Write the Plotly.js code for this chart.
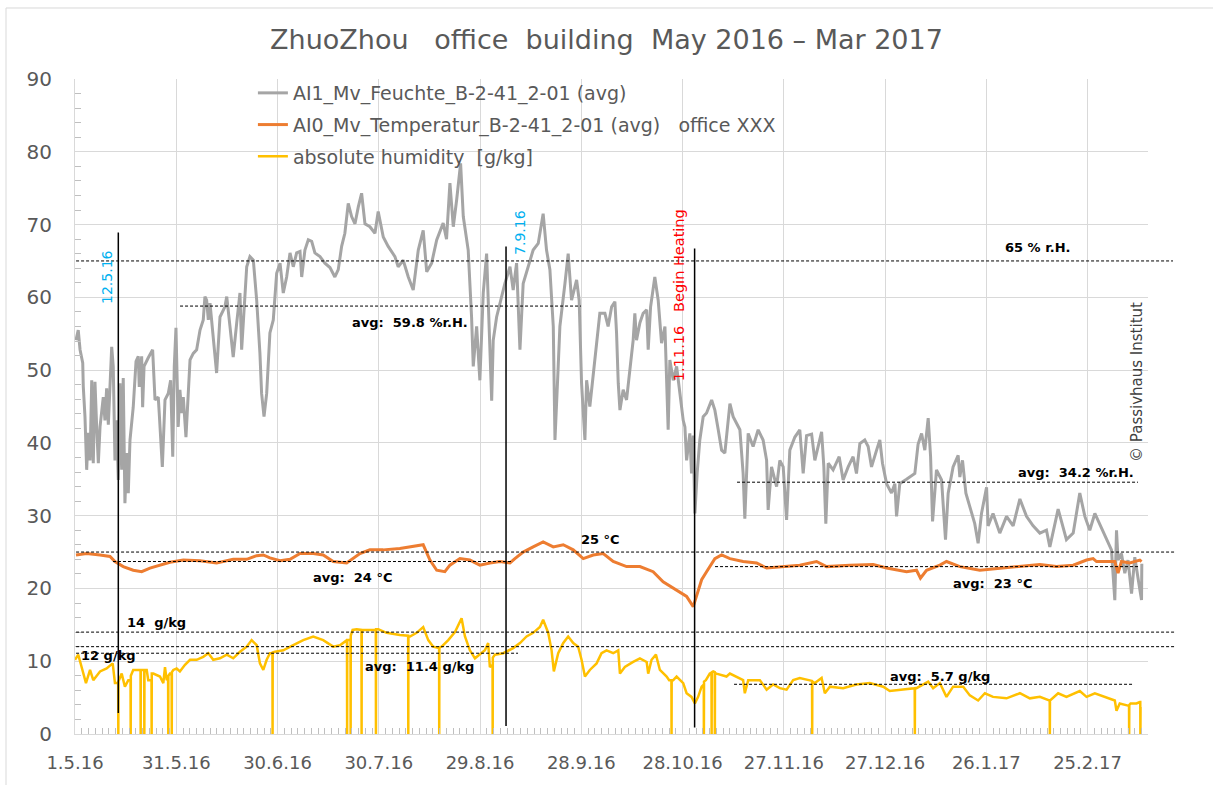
<!DOCTYPE html>
<html>
<head>
<meta charset="utf-8">
<script src="https://cdn.plot.ly/plotly-3.0.1.min.js"></script>
<style>html,body{margin:0;padding:0;background:#fff;}#chart{width:1213px;height:785px;}</style>
</head>
<body>
<div id="chart"></div>
<script>
// ---------- data ----------
const rhTime = ["2016-05-01 07:00","2016-05-01 23:00","2016-05-02 12:00","2016-05-03 07:00","2016-05-03 11:00","2016-05-03 23:00","2016-05-04 11:00","2016-05-04 22:00","2016-05-05 11:00","2016-05-05 23:00","2016-05-06 10:00","2016-05-06 22:00","2016-05-07 10:00","2016-05-07 22:00","2016-05-08 10:00","2016-05-09 09:00","2016-05-09 21:00","2016-05-10 09:00","2016-05-10 21:00","2016-05-11 21:00","2016-05-12 08:00","2016-05-12 20:00","2016-05-13 08:00","2016-05-13 20:00","2016-05-14 08:00","2016-05-14 20:00","2016-05-15 07:00","2016-05-15 19:00","2016-05-16 08:00","2016-05-16 19:00","2016-05-17 07:00","2016-05-18 06:00","2016-05-19 02:00","2016-05-19 18:00","2016-05-20 01:00","2016-05-20 18:00","2016-05-21 01:00","2016-05-21 11:00","2016-05-22 17:00","2016-05-24 00:00","2016-05-24 17:00","2016-05-25 16:00","2016-05-25 23:00","2016-05-26 21:00","2016-05-27 16:00","2016-05-28 15:00","2016-05-29 08:00","2016-05-29 23:00","2016-05-30 10:00","2016-05-30 22:00","2016-05-31 14:00","2016-06-01 02:00","2016-06-01 15:00","2016-06-02 02:00","2016-06-02 21:00","2016-06-03 13:00","2016-06-04 02:00","2016-06-05 01:00","2016-06-06 01:00","2016-06-07 01:00","2016-06-08 00:00","2016-06-08 12:00","2016-06-09 00:00","2016-06-09 12:00","2016-06-10 00:00","2016-06-11 23:00","2016-06-12 23:00","2016-06-14 10:00","2016-06-14 23:00","2016-06-15 22:00","2016-06-16 21:00","2016-06-17 22:00","2016-06-18 21:00","2016-06-19 09:00","2016-06-20 21:00","2016-06-21 20:00","2016-06-22 20:00","2016-06-23 20:00","2016-06-24 19:00","2016-06-25 07:00","2016-06-26 00:00","2016-06-26 19:00","2016-06-27 06:00","2016-06-27 18:00","2016-06-28 18:00","2016-06-29 18:00","2016-06-30 18:00","2016-07-01 17:00","2016-07-02 17:00","2016-07-03 17:00","2016-07-04 16:00","2016-07-05 16:00","2016-07-06 16:00","2016-07-07 04:00","2016-07-08 03:00","2016-07-09 03:00","2016-07-10 03:00","2016-07-11 02:00","2016-07-12 14:00","2016-07-14 01:00","2016-07-15 13:00","2016-07-17 00:00","2016-07-18 00:00","2016-07-19 00:00","2016-07-19 23:00","2016-07-20 23:00","2016-07-21 23:00","2016-07-22 23:00","2016-07-23 22:00","2016-07-24 22:00","2016-07-25 22:00","2016-07-27 09:00","2016-07-28 21:00","2016-07-29 20:00","2016-07-31 08:00","2016-08-01 19:00","2016-08-03 19:00","2016-08-04 18:00","2016-08-06 06:00","2016-08-07 18:00","2016-08-09 05:00","2016-08-10 17:00","2016-08-12 04:00","2016-08-13 05:00","2016-08-14 16:00","2016-08-16 04:00","2016-08-18 02:00","2016-08-19 02:00","2016-08-20 02:00","2016-08-21 02:00","2016-08-22 02:00","2016-08-23 06:00","2016-08-24 01:00","2016-08-25 12:00","2016-08-26 12:00","2016-08-27 00:00","2016-08-28 00:00","2016-08-28 23:00","2016-08-29 23:00","2016-08-30 23:00","2016-09-01 11:00","2016-09-01 22:00","2016-09-02 22:00","2016-09-03 22:00","2016-09-05 09:00","2016-09-06 21:00","2016-09-07 20:00","2016-09-08 20:00","2016-09-09 20:00","2016-09-10 19:00","2016-09-12 07:00","2016-09-13 18:00","2016-09-15 06:00","2016-09-16 17:00","2016-09-17 17:00","2016-09-18 17:00","2016-09-19 17:00","2016-09-20 05:00","2016-09-21 04:00","2016-09-21 16:00","2016-09-23 04:00","2016-09-24 03:00","2016-09-25 03:00","2016-09-26 15:00","2016-09-27 09:00","2016-09-28 02:00","2016-09-29 02:00","2016-09-29 14:00","2016-09-30 13:00","2016-10-02 01:00","2016-10-03 12:00","2016-10-05 00:00","2016-10-05 23:00","2016-10-07 00:00","2016-10-07 23:00","2016-10-08 11:00","2016-10-08 23:00","2016-10-09 11:00","2016-10-10 10:00","2016-10-11 10:00","2016-10-12 10:00","2016-10-13 09:00","2016-10-13 21:00","2016-10-14 09:00","2016-10-15 09:00","2016-10-16 08:00","2016-10-17 09:00","2016-10-17 20:00","2016-10-18 13:00","2016-10-19 19:00","2016-10-20 19:00","2016-10-21 19:00","2016-10-22 19:00","2016-10-23 18:00","2016-10-24 06:00","2016-10-25 06:00","2016-10-26 06:00","2016-10-27 05:00","2016-10-28 05:00","2016-10-28 17:00","2016-10-29 05:00","2016-10-30 04:00","2016-10-30 16:00","2016-10-31 04:00","2016-10-31 16:00","2016-11-01 08:00","2016-11-02 03:00","2016-11-03 03:00","2016-11-04 03:00","2016-11-05 15:00","2016-11-06 14:00","2016-11-07 14:00","2016-11-08 14:00","2016-11-09 13:00","2016-11-11 01:00","2016-11-12 00:00","2016-11-14 00:00","2016-11-14 23:00","2016-11-15 11:00","2016-11-16 11:00","2016-11-17 22:00","2016-11-19 10:00","2016-11-20 21:00","2016-11-21 22:00","2016-11-22 09:00","2016-11-23 09:00","2016-11-24 21:00","2016-11-25 20:00","2016-11-26 20:00","2016-11-27 20:00","2016-11-28 19:00","2016-11-30 07:00","2016-12-01 18:00","2016-12-02 18:00","2016-12-03 18:00","2016-12-05 06:00","2016-12-06 05:00","2016-12-08 05:00","2016-12-08 21:00","2016-12-09 11:00","2016-12-10 04:00","2016-12-11 15:00","2016-12-13 10:00","2016-12-14 14:00","2016-12-16 02:00","2016-12-17 13:00","2016-12-18 13:00","2016-12-19 13:00","2016-12-21 00:00","2016-12-22 00:00","2016-12-23 00:00","2016-12-24 12:00","2016-12-25 11:00","2016-12-26 06:00","2016-12-27 11:00","2016-12-28 22:00","2016-12-29 22:00","2016-12-30 10:00","2016-12-31 09:00","2017-01-02 09:00","2017-01-04 20:00","2017-01-05 19:00","2017-01-06 20:00","2017-01-07 19:00","2017-01-08 19:00","2017-01-09 12:00","2017-01-10 02:00","2017-01-11 06:00","2017-01-12 18:00","2017-01-13 22:00","2017-01-14 17:00","2017-01-16 04:00","2017-01-17 16:00","2017-01-18 04:00","2017-01-18 23:00","2017-01-19 23:00","2017-01-21 03:00","2017-01-22 14:00","2017-01-23 14:00","2017-01-24 14:00","2017-01-26 02:00","2017-01-26 13:00","2017-01-28 00:00","2017-01-30 00:00","2017-02-01 00:00","2017-02-02 23:00","2017-02-04 23:00","2017-02-06 22:00","2017-02-08 21:00","2017-02-10 21:00","2017-02-12 20:00","2017-02-13 20:00","2017-02-16 07:00","2017-02-17 18:00","2017-02-18 18:00","2017-02-20 18:00","2017-02-22 17:00","2017-02-24 05:00","2017-02-25 16:00","2017-02-27 04:00","2017-03-04 02:00","2017-03-05 02:00","2017-03-05 14:00","2017-03-06 01:00","2017-03-07 01:00","2017-03-08 01:00","2017-03-09 00:00","2017-03-10 01:00","2017-03-11 00:00","2017-03-12 00:00","2017-03-13 00:00","2017-03-13 02:00"];
const rhValue = [54.1,55.5,52.8,51,47.7,43.6,36.3,41.4,37.6,48.6,37.2,48.4,42.2,37.2,42.2,46.3,43.1,47.5,42.5,53.2,50.5,37.6,43.1,34.9,48.2,36.3,48.9,31.7,38.6,33.1,40.4,44.9,51.2,51.9,47.7,51.9,44.9,50.5,51.7,52.8,45.9,46.3,44.1,36.7,45.9,46.8,48.6,38.1,50.5,55.8,42.2,47.3,44.1,46.3,40.8,47.3,51.4,52.3,52.8,55.5,56.9,60.1,59.6,56.9,59.2,49.6,57.3,58.7,60.1,56,51.8,56.5,60.6,52.8,64.2,65.6,65.1,59.6,52.3,46.8,43.6,46.8,51.8,55.1,56.9,63.3,64.7,60.6,62.8,66.1,64.2,66.1,66.3,62.8,66.5,67.9,67.7,66.1,65.6,64.7,64.1,62.8,63.8,67,68.8,72.9,71.1,70.1,72.4,74.3,70.1,69.7,68.8,71.8,68.3,67,65.6,64.2,65.1,62.8,61,66.5,69.2,63.5,64.7,67.9,70.2,68,75.7,69.7,73.4,78.4,71.1,66.5,57.3,50.5,56,48.6,60.6,66,45.8,54.1,57.3,59.2,61.9,64.2,61,64.7,52.8,61.9,64.2,66.5,67.4,71.5,66.5,63.8,56,40.4,50.5,56,61.9,66,59.6,62.4,59.6,48.2,40.4,48.6,45,51.4,57.8,57.8,56,58.7,59.4,55.1,48.2,44.5,47.3,45.9,50.5,54.1,57.8,54.1,56.5,57.8,58.3,52.8,58.7,62.8,59.6,53.7,56,41.8,51.4,48.6,50.5,46.8,43.1,42.2,37.6,41.3,35.8,41,30.3,35.8,40.4,43.6,44.1,45.9,44.5,41.8,39,38.6,45.4,43.6,41.8,35.8,29.6,41.3,39.5,41.8,40.4,37.6,30.8,36.7,34,37.6,36.7,29.4,39,40.8,41.8,35.8,41,41.2,37.6,41.5,36.7,28.9,37.2,36.3,38.1,34.9,36.7,38.1,35.8,39.9,40.4,39.5,36.7,39,40.4,37.2,34.4,33.1,34.4,29.9,34.4,35,35.8,39.8,41.3,39,43.4,38.1,29.2,36.3,34.9,26.7,33.1,36.7,38.3,35.3,37.6,33.1,31.2,28.9,26.2,30.3,33.9,28.6,30.3,27.6,29.9,28.6,32.3,29.9,28.6,27.6,28,25.7,30.9,28.6,26.7,27.6,33.1,29.9,28,30.3,25.3,18.4,28,23.9,24.8,22.1,23.9,19.3,24.3,21.3,18.4,23.4];

const tempTime = ["2016-05-01 07:00","2016-05-04 11:00","2016-05-08 10:00","2016-05-11 09:00","2016-05-12 20:00","2016-05-15 07:00","2016-05-18 06:00","2016-05-20 18:00","2016-05-23 05:00","2016-05-26 04:00","2016-05-29 03:00","2016-06-02 02:00","2016-06-07 01:00","2016-06-11 23:00","2016-06-16 21:00","2016-06-20 21:00","2016-06-23 20:00","2016-06-25 19:00","2016-06-27 18:00","2016-06-30 18:00","2016-07-03 17:00","2016-07-06 16:00","2016-07-10 14:00","2016-07-13 13:00","2016-07-16 12:00","2016-07-20 12:00","2016-07-22 11:00","2016-07-24 10:00","2016-07-27 09:00","2016-07-31 08:00","2016-08-05 06:00","2016-08-12 04:00","2016-08-14 04:00","2016-08-16 04:00","2016-08-18 14:00","2016-08-20 02:00","2016-08-23 01:00","2016-08-26 00:00","2016-08-28 23:00","2016-08-31 22:00","2016-09-03 22:00","2016-09-06 21:00","2016-09-08 08:00","2016-09-10 19:00","2016-09-13 18:00","2016-09-16 17:00","2016-09-19 17:00","2016-09-22 16:00","2016-09-25 15:00","2016-09-28 14:00","2016-10-01 13:00","2016-10-04 12:00","2016-10-07 11:00","2016-10-11 10:00","2016-10-15 09:00","2016-10-19 07:00","2016-10-22 06:00","2016-10-26 06:00","2016-10-29 05:00","2016-10-31 04:00","2016-11-01 04:00","2016-11-02 16:00","2016-11-04 03:00","2016-11-06 14:00","2016-11-08 14:00","2016-11-11 01:00","2016-11-14 23:00","2016-11-18 23:00","2016-11-21 22:00","2016-11-26 20:00","2016-12-01 18:00","2016-12-06 17:00","2016-12-09 16:00","2016-12-16 14:00","2016-12-23 12:00","2016-12-27 11:00","2017-01-02 09:00","2017-01-05 08:00","2017-01-06 12:00","2017-01-08 07:00","2017-01-12 06:00","2017-01-14 05:00","2017-01-18 04:00","2017-01-24 02:00","2017-01-30 00:00","2017-02-04 23:00","2017-02-10 21:00","2017-02-15 19:00","2017-02-20 18:00","2017-02-24 17:00","2017-02-26 16:00","2017-02-27 16:00","2017-03-05 02:00","2017-03-06 01:00","2017-03-07 01:00","2017-03-09 12:00","2017-03-12 12:00","2017-03-13 00:00"];
const tempValue = [24.6,24.8,24.6,24.4,23.7,23.0,22.5,22.3,22.8,23.2,23.6,23.9,23.8,23.5,24.0,24.0,24.5,24.6,24.2,23.8,24.0,24.8,24.8,24.6,23.7,23.5,24.2,24.8,25.3,25.3,25.5,26.0,23.9,22.5,22.3,23.2,24.1,23.9,23.2,23.5,23.7,23.5,24.1,25.0,25.7,26.4,25.7,26.0,25.3,24.1,24.6,24.8,23.7,23.0,23.0,22.3,20.9,19.8,18.9,17.5,19.1,21.2,22.3,24.1,24.6,24.1,23.7,23.5,22.8,23.0,23.2,23.7,23.0,23.2,23.3,22.8,22.3,22.5,21.4,22.5,23.2,23.7,23.0,22.5,22.8,23.0,23.3,23.0,23.2,23.9,24.1,23.7,23.7,22.1,23.7,23.5,23.9,23.7];

const ahTime = ["2016-05-01 00:00","2016-05-01 23:00","2016-05-02 23:00","2016-05-04 06:00","2016-05-05 11:00","2016-05-06 10:00","2016-05-08 10:00","2016-05-10 09:00","2016-05-12 04:00","2016-05-12 20:00","2016-05-13 19:00","2016-05-13 20:00","2016-05-13 21:00","2016-05-14 20:00","2016-05-15 19:00","2016-05-16 19:00","2016-05-17 11:00","2016-05-17 12:00","2016-05-17 13:00","2016-05-18 06:00","2016-05-19 18:00","2016-05-20 10:00","2016-05-20 11:00","2016-05-20 12:00","2016-05-21 01:00","2016-05-21 12:00","2016-05-21 13:00","2016-05-21 14:00","2016-05-22 06:00","2016-05-22 17:00","2016-05-23 16:00","2016-05-23 17:00","2016-05-23 18:00","2016-05-24 05:00","2016-05-26 04:00","2016-05-27 04:00","2016-05-27 16:00","2016-05-28 04:00","2016-05-28 14:00","2016-05-28 15:00","2016-05-28 16:00","2016-05-29 03:00","2016-05-29 15:00","2016-05-29 16:00","2016-05-29 17:00","2016-05-30 03:00","2016-05-31 03:00","2016-06-01 02:00","2016-06-02 14:00","2016-06-04 02:00","2016-06-06 01:00","2016-06-08 00:00","2016-06-09 12:00","2016-06-10 23:00","2016-06-12 23:00","2016-06-14 23:00","2016-06-16 21:00","2016-06-18 21:00","2016-06-20 21:00","2016-06-22 08:00","2016-06-23 20:00","2016-06-24 19:00","2016-06-25 19:00","2016-06-26 19:00","2016-06-27 18:00","2016-06-28 12:00","2016-06-28 13:00","2016-06-28 14:00","2016-06-29 06:00","2016-07-01 17:00","2016-07-04 16:00","2016-07-07 15:00","2016-07-10 14:00","2016-07-13 13:00","2016-07-16 12:00","2016-07-18 12:00","2016-07-20 14:00","2016-07-20 15:00","2016-07-20 16:00","2016-07-21 06:00","2016-07-21 15:00","2016-07-21 16:00","2016-07-21 17:00","2016-07-22 06:00","2016-07-23 11:00","2016-07-24 21:00","2016-07-24 22:00","2016-07-24 23:00","2016-07-25 10:00","2016-07-27 09:00","2016-07-29 03:00","2016-07-29 04:00","2016-07-29 05:00","2016-07-29 20:00","2016-08-01 08:00","2016-08-05 06:00","2016-08-07 17:00","2016-08-07 18:00","2016-08-07 19:00","2016-08-08 06:00","2016-08-10 05:00","2016-08-12 04:00","2016-08-13 16:00","2016-08-15 03:00","2016-08-16 15:00","2016-08-16 21:00","2016-08-16 22:00","2016-08-16 23:00","2016-08-17 15:00","2016-08-19 14:00","2016-08-21 14:00","2016-08-23 13:00","2016-08-24 13:00","2016-08-26 00:00","2016-08-27 12:00","2016-08-28 23:00","2016-08-30 11:00","2016-08-31 10:00","2016-08-31 22:00","2016-09-01 17:00","2016-09-01 18:00","2016-09-01 19:00","2016-09-02 10:00","2016-09-04 21:00","2016-09-07 20:00","2016-09-09 20:00","2016-09-11 19:00","2016-09-13 18:00","2016-09-15 18:00","2016-09-16 17:00","2016-09-18 05:00","2016-09-19 05:00","2016-09-19 21:00","2016-09-21 04:00","2016-09-22 16:00","2016-09-24 03:00","2016-09-25 15:00","2016-09-27 02:00","2016-09-28 02:00","2016-09-29 02:00","2016-09-30 13:00","2016-10-02 13:00","2016-10-04 00:00","2016-10-05 12:00","2016-10-07 11:00","2016-10-08 23:00","2016-10-09 11:00","2016-10-10 22:00","2016-10-13 09:00","2016-10-15 09:00","2016-10-17 09:00","2016-10-17 20:00","2016-10-18 20:00","2016-10-20 03:00","2016-10-21 07:00","2016-10-23 07:00","2016-10-24 01:00","2016-10-24 17:00","2016-10-24 18:00","2016-10-24 19:00","2016-10-25 06:00","2016-10-26 06:00","2016-10-28 05:00","2016-10-29 05:00","2016-10-30 16:00","2016-10-31 16:00","2016-11-01 15:00","2016-11-02 16:00","2016-11-03 07:00","2016-11-03 08:00","2016-11-03 09:00","2016-11-03 22:00","2016-11-05 02:00","2016-11-05 14:00","2016-11-05 15:00","2016-11-05 16:00","2016-11-06 02:00","2016-11-06 13:00","2016-11-06 14:00","2016-11-06 15:00","2016-11-07 02:00","2016-11-10 01:00","2016-11-11 01:00","2016-11-13 00:00","2016-11-14 23:00","2016-11-15 11:00","2016-11-16 11:00","2016-11-19 22:00","2016-11-21 22:00","2016-11-23 20:00","2016-11-25 20:00","2016-11-27 20:00","2016-11-29 19:00","2016-12-01 18:00","2016-12-04 18:00","2016-12-05 09:00","2016-12-05 10:00","2016-12-05 11:00","2016-12-06 05:00","2016-12-08 05:00","2016-12-09 04:00","2016-12-10 16:00","2016-12-14 14:00","2016-12-18 13:00","2016-12-22 12:00","2016-12-26 11:00","2016-12-28 10:00","2016-12-31 09:00","2017-01-04 08:00","2017-01-04 19:00","2017-01-04 20:00","2017-01-04 21:00","2017-01-05 08:00","2017-01-08 19:00","2017-01-10 06:00","2017-01-12 06:00","2017-01-14 05:00","2017-01-16 04:00","2017-01-19 04:00","2017-01-21 03:00","2017-01-23 14:00","2017-01-25 14:00","2017-01-28 00:00","2017-02-01 00:00","2017-02-04 23:00","2017-02-07 22:00","2017-02-10 21:00","2017-02-13 15:00","2017-02-13 19:00","2017-02-13 20:00","2017-02-13 21:00","2017-02-16 07:00","2017-02-18 18:00","2017-02-22 17:00","2017-02-24 17:00","2017-02-27 04:00","2017-03-05 02:00","2017-03-05 14:00","2017-03-06 13:00","2017-03-09 00:00","2017-03-09 07:00","2017-03-09 08:00","2017-03-09 09:00","2017-03-09 18:00","2017-03-11 12:00","2017-03-12 12:00","2017-03-12 15:00","2017-03-12 16:00","2017-03-12 17:00","2017-03-13 00:00"];
const ahValue = [10.2,10.9,9.2,7.0,8.8,7.4,8.6,9.0,9.7,7.0,7.0,0,7.2,8.3,6.5,7.4,7.4,0,8.0,8.8,8.8,8.8,0,8.8,8.8,8.8,0,8.8,8.8,7.4,7.4,0,8.3,8.3,7.9,7.0,9.2,7.4,7.6,0,8.0,8.3,8.3,0,8.5,8.8,9.0,8.6,9.5,10.2,10.2,10.6,11.1,10.2,10.4,10.9,10.4,11.3,12.0,12.9,12.2,9.7,8.8,10.2,11.1,11.1,0,11.2,11.3,11.5,12.2,12.9,13.4,12.9,12.0,12.2,12.9,0,12.9,12.9,13.0,0,13.5,14.3,14.4,14.3,0,14.3,14.3,14.3,14.3,0,14.4,14.4,13.9,13.6,13.5,0,13.4,13.4,13.9,14.7,12.9,12.0,11.8,11.8,0,11.9,12.0,12.9,14.0,15.9,13.4,11.5,10.4,10.9,11.5,12.5,9.2,9.5,0,10.5,10.9,11.1,11.8,12.5,13.4,13.9,14.7,15.7,13.9,11.5,8.6,11.1,12.5,13.4,12.5,12.0,10.2,7.9,8.8,9.7,11.1,11.5,11.1,11.5,8.3,9.2,9.9,10.4,9.9,8.3,10.2,10.9,8.8,7.9,7.4,7.4,0,7.4,7.4,7.9,7.0,5.6,5.1,4.2,5.1,6.5,6.8,0,7.2,7.4,8.3,8.4,0,8.5,8.6,8.5,0,8.4,8.3,7.9,8.3,7.9,7.4,5.6,7.4,7.4,6.1,6.8,6.3,6.1,7.4,7.7,7.4,7.3,0,7.2,7.0,7.7,5.6,6.5,6.3,6.8,7.0,6.5,5.9,6.1,6.3,6.3,0,6.3,6.3,7.2,6.3,7.0,5.1,6.5,6.5,5.3,4.6,5.6,5.1,4.9,5.6,4.9,5.1,4.6,4.6,0,4.6,5.6,5.1,5.9,5.1,5.6,4.6,3.2,4.2,3.9,3.9,0,4.0,4.2,4.2,4.4,4.4,0,3.7,3.7];

const seriesNames = [
  "AI1_Mv_Feuchte_B-2-41_2-01 (avg)",
  "AI0_Mv_Temperatur_B-2-41_2-01 (avg)&nbsp;&nbsp; office XXX",
  "absolute humidity&nbsp; [g/kg]"
];
const seriesColors = ["#a5a5a5", "#ed7d31", "#ffc000"];

// reference levels
const refLevels = { rh65: 65, rhAvgA: 58.8, rhAvgB: 34.6, t25: 25, tAvgA: 23.7, tAvgB: 23.0, ah14: 14, ah12: 12, ahAvgA: 11.1, ahAvgB: 6.83 };
const eventTimes = ["2016-05-13 20:00", "2016-09-05 17:00", "2016-10-31 14:00"];
const eventRanges = [[2.9, 68.9], [1.1, 67.0], [0.9, 66.7]];

// ---------- chart ----------
const FONT = "DejaVu Sans";
const traces = [
  {x: rhTime, y: rhValue, name: seriesNames[0], type: "scatter", mode: "lines", line: {color: seriesColors[0], width: 3}, legendgroup: "a"},
  {x: tempTime, y: tempValue, name: seriesNames[1], type: "scatter", mode: "lines", line: {color: seriesColors[1], width: 3}, legendgroup: "b"},
  {x: ahTime, y: ahValue, name: seriesNames[2], type: "scatter", mode: "lines", line: {color: seriesColors[2], width: 2.5}, legendgroup: "c"}
];

function hLine(y, x0, x1) {
  return {type: "line", xref: "paper", yref: "y", x0: x0, x1: x1, y0: y, y1: y,
          line: {color: "#000", width: 1, dash: "3px,2px"}};
}
const shapes = [
  hLine(refLevels.rh65, 0.001, 1.0233),
  hLine(refLevels.rhAvgA, 0.0979, 0.4716),
  hLine(refLevels.rhAvgB, 0.617, 0.9907),
  hLine(refLevels.t25, 0.001, 1.026),
  hLine(refLevels.tAvgA, 0.0354, 0.4082),
  hLine(refLevels.tAvgB, 0.5965, 0.9907),
  hLine(refLevels.ah14, 0.001, 1.025),
  hLine(refLevels.ah12, 0.001, 1.025),
  hLine(refLevels.ahAvgA, 0.001, 0.4129),
  hLine(refLevels.ahAvgB, 0.6142, 0.987),
  // outer chart border
  {type: "rect", xref: "paper", yref: "paper", x0: -0.0643, x1: 1.07, y0: -0.08, y1: 1.1084, line: {color: "#d9d9d9", width: 1}}
];
eventTimes.forEach((t, i) => {
  shapes.push({type: "line", xref: "x", yref: "y", x0: t, x1: t, y0: eventRanges[i][0], y1: eventRanges[i][1], line: {color: "#000", width: 1.5}});
});

function note(text, x, y, opts) {
  return Object.assign({text: text, xref: "paper", yref: "paper", x: x, y: y, showarrow: false,
    xanchor: "center", yanchor: "middle", font: {family: FONT, size: 13, color: "#000", weight: "bold"}}, opts || {});
}
const annotations = [
  note("<b>65 % r.H.</b>", 0.8966, 0.743),
  note("<b>avg:&nbsp; 59.8 %r.H.</b>", 0.3122, 0.628),
  note("<b>avg:&nbsp; 34.2 %r.H.</b>", 0.9888, 0.399, {xanchor: "right"}),
  note("<b>25 °C</b>", 0.4902, 0.2962),
  note("<b>avg:&nbsp; 24 °C</b>", 0.2582, 0.2382),
  note("<b>avg:&nbsp; 23 °C</b>", 0.8555, 0.2305),
  note("<b>14&nbsp; g/kg</b>", 0.0764, 0.1699),
  note("<b>12 g/kg</b>", 0.0308, 0.1206),
  note("<b>avg:&nbsp; 11.4 g/kg</b>", 0.3215, 0.1027),
  note("<b>avg:&nbsp; 5.7 g/kg</b>", 0.8061, 0.0875),
  note("12.5.16", 0.0298, 0.6977, {textangle: -90, font: {family: FONT, size: 14, color: "#00b0f0"}}),
  note("7.9.16", 0.4147, 0.7664, {textangle: -90, font: {family: FONT, size: 14, color: "#00b0f0"}}),
  note("1.11.16&nbsp;&nbsp; Begin Heating", 0.5629, 0.6700, {textangle: -90, font: {family: FONT, size: 14.5, color: "#ff0000"}}),
  note("© Passivhaus Institut", 0.9897, 0.5374, {textangle: -90, font: {family: FONT, size: 15, color: "#404040"}})
];

const layout = {
  width: 1213, height: 785,
  margin: {l: 75, r: 65, t: 79, b: 51},
  paper_bgcolor: "#fff", plot_bgcolor: "#fff",
  title: {text: "ZhuoZhou&nbsp;&nbsp; office&nbsp; building&nbsp; May 2016 – Mar 2017", x: 0.5, xanchor: "center", y: 0.949, yanchor: "middle",
          font: {family: FONT, size: 27, color: "#595959"}},
  showlegend: true,
  legend: {x: 0.1658, xanchor: "left", y: 1.0076, yanchor: "top", bgcolor: "rgba(0,0,0,0)", borderwidth: 0,
           font: {family: FONT, size: 19, color: "#595959"}, tracegroupgap: 4, itemwidth: 30},
  xaxis: {type: "date", range: ["2016-05-01 00:00", "2017-03-14 22:00"], tick0: "2016-05-01", dtick: 30 * 86400000,
          tickformat: "%-d.%-m.%y", showgrid: true, gridcolor: "#d9d9d9", gridwidth: 1,
          showline: true, linecolor: "#d9d9d9", linewidth: 1, ticks: "", zeroline: false,
          tickfont: {family: FONT, size: 18, color: "#595959"}, ticklabelstandoff: 12,
          minor: {tick0: "2016-05-01", dtick: 2 * 86400000, ticks: "inside", ticklen: 6, tickcolor: "#bfbfbf", tickwidth: 1, showgrid: false}},
  yaxis: {range: [0, 90], dtick: 10, showgrid: true, gridcolor: "#d9d9d9", gridwidth: 1,
          showline: true, linecolor: "#d9d9d9", linewidth: 1, ticks: "", zeroline: false,
          tickfont: {family: FONT, size: 20, color: "#595959"}, ticklabelstandoff: 18,
          minor: {dtick: 2, ticks: "inside", ticklen: 6, tickcolor: "#bfbfbf", tickwidth: 1, showgrid: false}},
  shapes: shapes,
  annotations: annotations
};

Plotly.newPlot("chart", traces, layout, {displayModeBar: false, staticPlot: true});
</script>
</body>
</html>
